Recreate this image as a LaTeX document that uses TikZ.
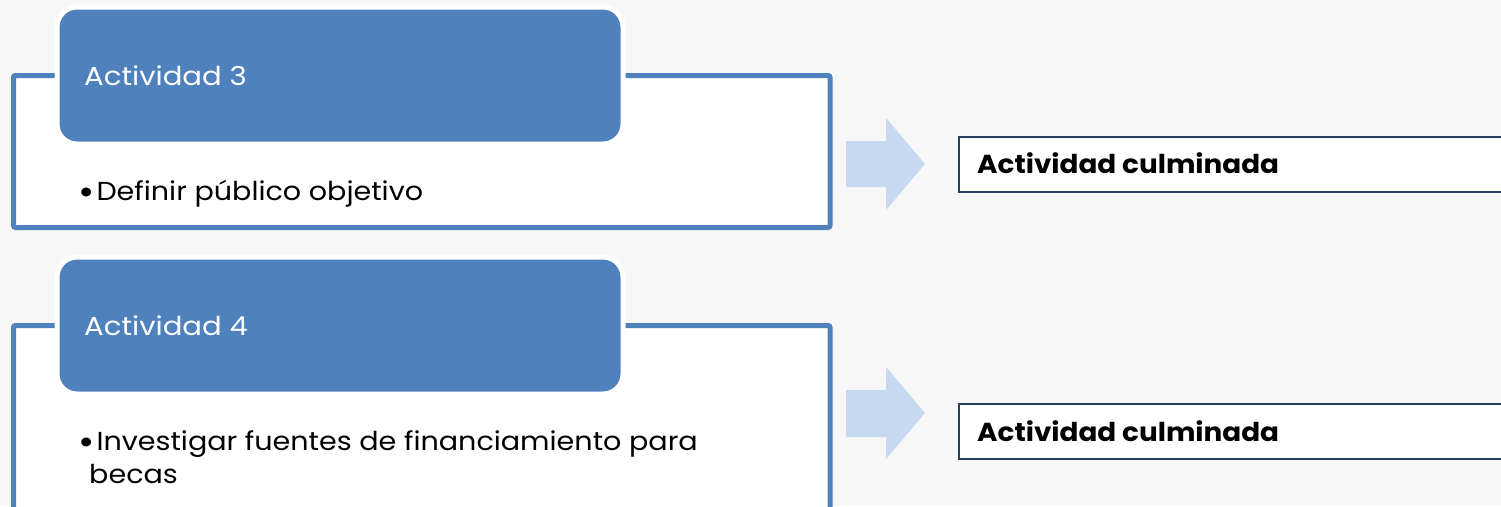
\documentclass[tikz,border=0pt]{standalone}
\usepackage{fontspec}
\setmainfont{Poppins}
\newfontfamily\titlefont[FakeStretch=1.12]{Poppins}
\newfontfamily\bodyfont[FakeStretch=1.10]{Poppins}
\newfontfamily\resultfont[FakeStretch=1.07]{Poppins}
\newcommand{\bigbul}{\raisebox{-4.5pt}{\fontsize{36}{36}\selectfont\textbullet}\hspace{2pt}}
\definecolor{bg}{HTML}{F7F7F7}
\definecolor{accent}{HTML}{4F81BD}
\definecolor{arrowfill}{HTML}{C6D9F1}
\definecolor{navy}{HTML}{243F60}
\tikzset{
  outerbox/.style={draw=accent, line width=5pt, fill=white, rounded corners=2pt},
  titlebox/.style={draw=white, line width=5pt, fill=accent, rounded corners=20pt},
  titletext/.style={anchor=base west, text=white, font=\titlefont\fontsize{26}{30}\selectfont, inner sep=0pt},
  bodytext/.style={anchor=base west, text=black, font=\bodyfont\fontsize{26}{33}\selectfont, inner sep=0pt},
  resultbox/.style={draw=navy, line width=1.8pt, fill=white},
  resulttext/.style={anchor=base west, text=black, font=\resultfont\fontsize{26}{30}\selectfont\bfseries, inner sep=0pt},
  flowarrow/.style={fill=arrowfill, draw=none}
}
\begin{document}
\begin{tikzpicture}[x=1pt,y=-1pt]
\useasboundingbox (0,0) rectangle (1501,506);
\clip (0,0) rectangle (1501,506);
\fill[bg] (0,0) rectangle (1501,506);
% ---------- group 1 ----------
\path[outerbox] (13.5,75.5) rectangle (830,227.5);
\path[titlebox] (57,7) rectangle (623,144);
\node[titletext] (t3) at (84,85) {Actividad 3};
\node[bodytext] (b3) at (78,200) {\bigbul Definir público objetivo};
\path[flowarrow] (846,141) -- (886,141) -- (886,118) -- (925,164) -- (886,210) -- (886,187) -- (846,187) -- cycle;
\path[resultbox] (959,137) rectangle (1520,192);
\node[resulttext] (r3) at (977,173) {Actividad culminada};
% ---------- group 2 ----------
\path[outerbox] (13.5,325.5) rectangle (830,540);
\path[titlebox] (57,257) rectangle (623,394);
\node[titletext] (t4) at (84,335) {Actividad 4};
\node[bodytext] (b4) at (78,450) {\bigbul Investigar fuentes de financiamiento para};
\node[bodytext] (b4b) at (89,483) {becas};
\path[flowarrow] (846,390) -- (886,390) -- (886,367) -- (925,413) -- (886,459) -- (886,437) -- (846,437) -- cycle;
\path[resultbox] (959,404) rectangle (1520,459);
\node[resulttext] (r4) at (977,441) {Actividad culminada};
\end{tikzpicture}
\end{document}
